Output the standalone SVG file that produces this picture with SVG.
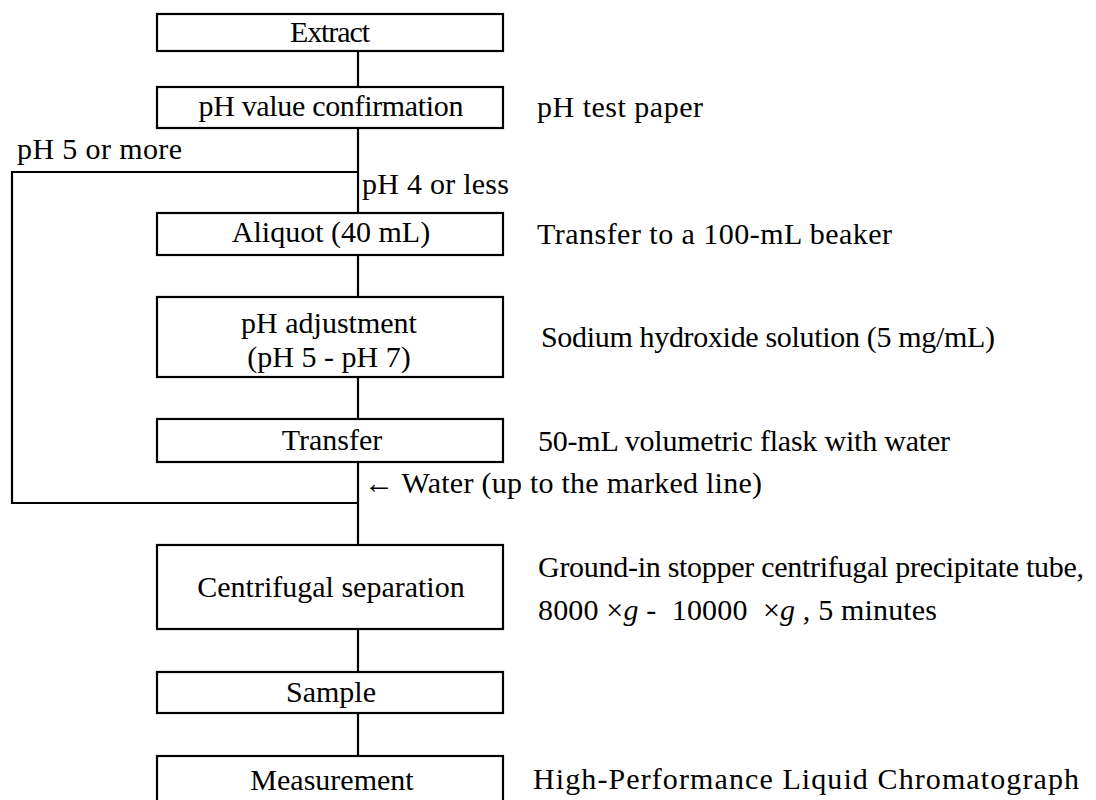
<svg xmlns="http://www.w3.org/2000/svg" width="1096" height="800" viewBox="0 0 1096 800">
<style>
  .box { fill: #fff; stroke: #000; stroke-width: 2.2; }
  .ln { fill: none; stroke: #000; stroke-width: 2.2; }
  text { font-family: "Liberation Serif", "Times New Roman", serif; font-size: 30px; fill: #000; }
  .c { text-anchor: middle; }
</style>
<rect width="1096" height="800" fill="#fff"/>
<g id="connectors">
  <line class="ln" x1="358" y1="51" x2="358" y2="87"/>
  <line class="ln" x1="358" y1="128" x2="358" y2="213"/>
  <line class="ln" x1="358" y1="255" x2="358" y2="297"/>
  <line class="ln" x1="358" y1="377" x2="358" y2="419"/>
  <line class="ln" x1="358" y1="462" x2="358" y2="545"/>
  <line class="ln" x1="358" y1="629" x2="358" y2="672"/>
  <line class="ln" x1="358" y1="713" x2="358" y2="756"/>
  <polyline class="ln" points="358,172 12,172 12,503 358,503"/>
  <text x="17" y="159" textLength="165" lengthAdjust="spacing">pH 5 or more</text>
  <text x="362" y="194" textLength="147" lengthAdjust="spacing">pH 4 or less</text>
  <text x="364" y="493" textLength="398" lengthAdjust="spacing">← Water (up to the marked line)</text>
</g>
<g id="extract">
  <rect class="box" x="157" y="14" width="346" height="37"/>
  <text class="c" x="330" y="42" textLength="80" lengthAdjust="spacing">Extract</text>
</g>
<g id="ph-confirm">
  <rect class="box" x="157" y="87" width="346" height="41"/>
  <text class="c" x="331" y="116" textLength="265" lengthAdjust="spacing">pH value confirmation</text>
  <text x="537" y="117" textLength="166" lengthAdjust="spacing">pH test paper</text>
</g>
<g id="aliquot">
  <rect class="box" x="157" y="213" width="346" height="42"/>
  <text class="c" x="331" y="242">Aliquot (40 mL)</text>
  <text x="537" y="244" textLength="355" lengthAdjust="spacing">Transfer to a 100-mL beaker</text>
</g>
<g id="ph-adjust">
  <rect class="box" x="157" y="297" width="346" height="80"/>
  <text class="c" x="329" y="333">pH adjustment</text>
  <text class="c" x="329" y="367">(pH 5 - pH 7)</text>
  <text x="541" y="347" textLength="454" lengthAdjust="spacing">Sodium hydroxide solution (5 mg/mL)</text>
</g>
<g id="transfer">
  <rect class="box" x="157" y="419" width="346" height="43"/>
  <text class="c" x="332" y="450">Transfer</text>
  <text x="538" y="451" textLength="412" lengthAdjust="spacing">50-mL volumetric flask with water</text>
</g>
<g id="centrifugal">
  <rect class="box" x="157" y="545" width="346" height="84"/>
  <text class="c" x="331" y="597">Centrifugal separation</text>
  <text x="538" y="577" textLength="546" lengthAdjust="spacing">Ground-in stopper centrifugal precipitate tube,</text>
  <text x="538" y="620" xml:space="preserve" textLength="399" lengthAdjust="spacing">8000 ×<tspan font-style="italic">g</tspan> -  10000  ×<tspan font-style="italic">g</tspan> , 5 minutes</text>
</g>
<g id="sample">
  <rect class="box" x="157" y="672" width="346" height="41"/>
  <text class="c" x="331" y="702">Sample</text>
</g>
<g id="measurement">
  <rect class="box" x="157" y="756" width="346" height="60"/>
  <text class="c" x="332" y="790">Measurement</text>
  <text x="533" y="789" textLength="546" lengthAdjust="spacing">High-Performance Liquid Chromatograph</text>
</g>
</svg>
